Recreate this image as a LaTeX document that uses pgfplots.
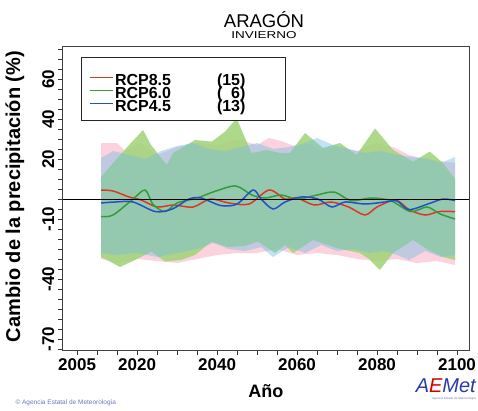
\documentclass[border=0pt]{standalone}
\usepackage{fontspec}
\setmainfont{Liberation Sans}
\usepackage{pgfplots}
\pgfplotsset{compat=1.18}

\definecolor{bandred}{RGB}{250,195,210}
\definecolor{bandgreen}{RGB}{165,212,125}
\definecolor{bandblue}{RGB}{120,190,228}
\definecolor{lred}{RGB}{222,55,40}
\definecolor{lgreen}{RGB}{55,155,55}
\definecolor{lblue}{RGB}{35,80,200}
\definecolor{aemetblue}{RGB}{40,60,170}

\newcommand{\bigb}{\fontsize{17}{17}\selectfont\bfseries}
\newcommand{\leg}[2]{\raisebox{-4pt}[11.5pt][0.5pt]{\makebox[160pt][l]{\makebox[102pt][l]{#1}#2}}}

\begin{document}
\begin{tikzpicture}
\begin{axis}[
    at={(62.7pt,60pt)}, anchor=south west,
    width=406.3pt, height=304pt, scale only axis,
    xmin=2001.4, xmax=2103, ymin=-75.5, ymax=76.5,
    xtick={2005,2020,2040,2060,2080,2100},
    xticklabels={2005,2020,2040,2060,2080,2100},
    minor xtick={2005,2010,...,2100},
    ytick={-70,-40,-10,20,40,60},
    yticklabels={-70,-40,-10,20,40,60},
    minor ytick={-75,-70,...,75},
    xtick pos=bottom, ytick pos=left,
    tick align=outside,
    major tick length=5pt, minor tick length=5pt,
    tick style={black!80, line width=0.8pt},
    axis line style={black!75, line width=0.9pt},
    tick label style={font=\bigb},
    yticklabel style={rotate=90, anchor=south},
    xlabel={Año},
    ylabel={Cambio de la precipitación (\%)},
    xlabel style={font=\fontsize{18}{18}\selectfont\bfseries,
        at={(axis description cs:0.5,-0.135)}, anchor=center},
    ylabel style={font=\fontsize{20}{20}\selectfont\bfseries,
        at={(axis description cs:-0.118,0.505)}, anchor=center, rotate=0},
    legend style={at={(axis description cs:0.044,0.963)}, anchor=north west,
        draw=black!85, line width=0.9pt,
        font=\fontsize{16}{16}\selectfont\bfseries,
        inner xsep=8pt, inner ysep=12pt, row sep=0pt,
        nodes={inner ysep=0pt}},
    legend cell align=left,
    legend image code/.code={\draw[#1, line width=1pt] (0pt,-1.5pt) -- (23pt,-1.5pt);},
]
% ---- bands (ensemble spread): upper edge forward, lower edge backward
\addplot[fill=bandred, fill opacity=0.75, draw=none, forget plot] coordinates {
 (2011,28) (2015,28) (2017,24) (2021,28) (2025,22) (2030,26) (2035,28)
 (2040,27) (2045,30) (2050,27) (2053,30.5) (2056,29) (2060,26) (2062,28)
 (2066,25) (2070,26) (2075,24) (2080,28) (2084,26) (2088,22) (2092,20)
 (2096,19) (2099.5,18)
 (2099.5,-33) (2095,-31) (2090,-32) (2085,-30) (2080,-31) (2075,-30)
 (2070,-28) (2065,-27) (2060,-28) (2055,-25) (2050,-27) (2045,-27)
 (2040,-28) (2035,-30) (2030,-32) (2025,-31) (2020,-30) (2015,-32) (2011,-30)
} -- cycle;

\addplot[fill=bandgreen, fill opacity=0.9, draw=none, forget plot] coordinates {
 (2011,11) (2014,18) (2018,27) (2021.5,34.5) (2023.5,27) (2027.4,17) (2029,23)
 (2034.5,29.5) (2038.7,28.7) (2042,33.7) (2044.9,40.3) (2048.6,23) (2052.4,24.5)
 (2055.7,23) (2058.2,23) (2062,33) (2066.5,25.5) (2070.7,28) (2074.9,22)
 (2079.5,35.3) (2084,24.5) (2089,18.7) (2093.2,23.7) (2096.5,18) (2099.5,10)
 (2099.5,-30.5) (2096.5,-29) (2093,-25.7) (2089,-20.5) (2084,-27)
 (2080.7,-35.5) (2078,-30) (2075.7,-27) (2069.8,-24.5) (2064,-20.5)
 (2059,-27) (2057,-23) (2054.5,-27) (2050.2,-21.3) (2046.9,-23.5)
 (2042.7,-24) (2038.6,-21.3) (2034.5,-28) (2031,-30.5) (2027,-31.3)
 (2023.6,-26.3) (2019.5,-30.5) (2015.7,-34) (2013,-31) (2011,-29)
} -- cycle;

\addplot[fill=bandblue, fill opacity=0.45, draw=none, forget plot] coordinates {
 (2011,20.5) (2014,24) (2018,22) (2022,20) (2026,24) (2030,26.5) (2034,28)
 (2038,25) (2042,24) (2046,26) (2050,28) (2054,25) (2058,26) (2062,28)
 (2065,30.5) (2069,27) (2073,25) (2077,23) (2081,24) (2085,22) (2089,21)
 (2093,20) (2096,18) (2099.5,21)
 (2099.5,-28) (2096,-29) (2092,-26) (2088,-30.5) (2085,-28) (2082,-26)
 (2078,-27) (2074,-25) (2070,-26) (2066,-23) (2062,-27) (2058,-24)
 (2054,-29) (2051,-24) (2047,-26) (2043,-25) (2039,-22) (2035,-25)
 (2030,-27) (2025,-29) (2020,-27) (2015,-28) (2011,-27)
} -- cycle;

% ---- ensemble means
\addplot[lred, line width=1.5pt, smooth] coordinates {
 (2011,4.5) (2014,4) (2018,1) (2021,-0.5) (2025,-4) (2029,-3) (2034,-4)
 (2038.3,0) (2043,-2) (2048,-2.5) (2053,4.5) (2057,0) (2060,0.5) (2064.3,-3)
 (2068.5,-1.5) (2072.9,-4) (2077,-8) (2080,-4) (2084.6,-0.5) (2088,-5.3)
 (2092,-8) (2095.5,-6.3) (2099.5,-6.3)};
\addlegendentry{\leg{RCP8.5}{(15)}}
\addplot[lgreen, line width=1.5pt, smooth] coordinates {
 (2011,-8.8) (2014,-8) (2019,0) (2022,4.5) (2024,-2.7) (2027,-6.3) (2030,-2)
 (2035,0.5) (2039.7,4) (2044.7,6.5) (2048.7,2) (2052,0.5) (2056,2) (2060,0)
 (2065,2) (2069.3,3.5) (2073.5,-0.8) (2078.5,0.5) (2083.4,-0.8) (2088.4,-6.3)
 (2092.5,-4) (2095.8,-7.5) (2099.5,-10)};
\addlegendentry{\leg{RCP6.0}{(\phantom{1}6)}}
\addplot[lblue, line width=1.5pt, smooth] coordinates {
 (2011,-2) (2014.5,-1.5) (2019,-1.5) (2024.6,-6.3) (2028.8,-5) (2033,0)
 (2036,0.5) (2041,-3.3) (2045,-2.5) (2049,4.5) (2051,0) (2054,-5) (2057,-1.5)
 (2061,1) (2065.2,0) (2068.7,-4) (2072,-1.5) (2077,-2.5) (2082,-1.5)
 (2085,-1) (2088,-5.3) (2093,-2.3) (2096.5,0) (2099.5,-0.8)};
\addlegendentry{\leg{RCP4.5}{(13)}}

% ---- zero line
\addplot[black, line width=1pt, forget plot] coordinates {(2001.4,0) (2103,0)};
\end{axis}

\node[font=\fontsize{18.5}{18.5}\selectfont, inner sep=0pt] at (264pt,390pt) {ARAGÓN};
\node[font=\fontsize{10}{10}\selectfont, xscale=1.35, inner sep=0pt] at (264pt,375pt) {INVIERNO};
\node[anchor=west, font=\fontsize{6.5}{6.5}\selectfont, text=aemetblue!70] at (12pt,7pt)
  {© Agencia Estatal de Meteorología};
\node[anchor=east, font=\fontsize{20}{20}\selectfont\itshape, inner sep=0pt] at (476pt,24pt)
  {\textcolor{aemetblue}{A}\textcolor{red!85!black}{E}\textcolor{aemetblue}{Met}};
\node[anchor=east, font=\fontsize{3}{3}\selectfont, text=aemetblue!70, inner sep=0pt] at (476pt,11pt)
  {Agencia Estatal de Meteorología};
\pgfresetboundingbox
\useasboundingbox (0,0) rectangle (478pt,410pt);
\end{tikzpicture}
\end{document}
